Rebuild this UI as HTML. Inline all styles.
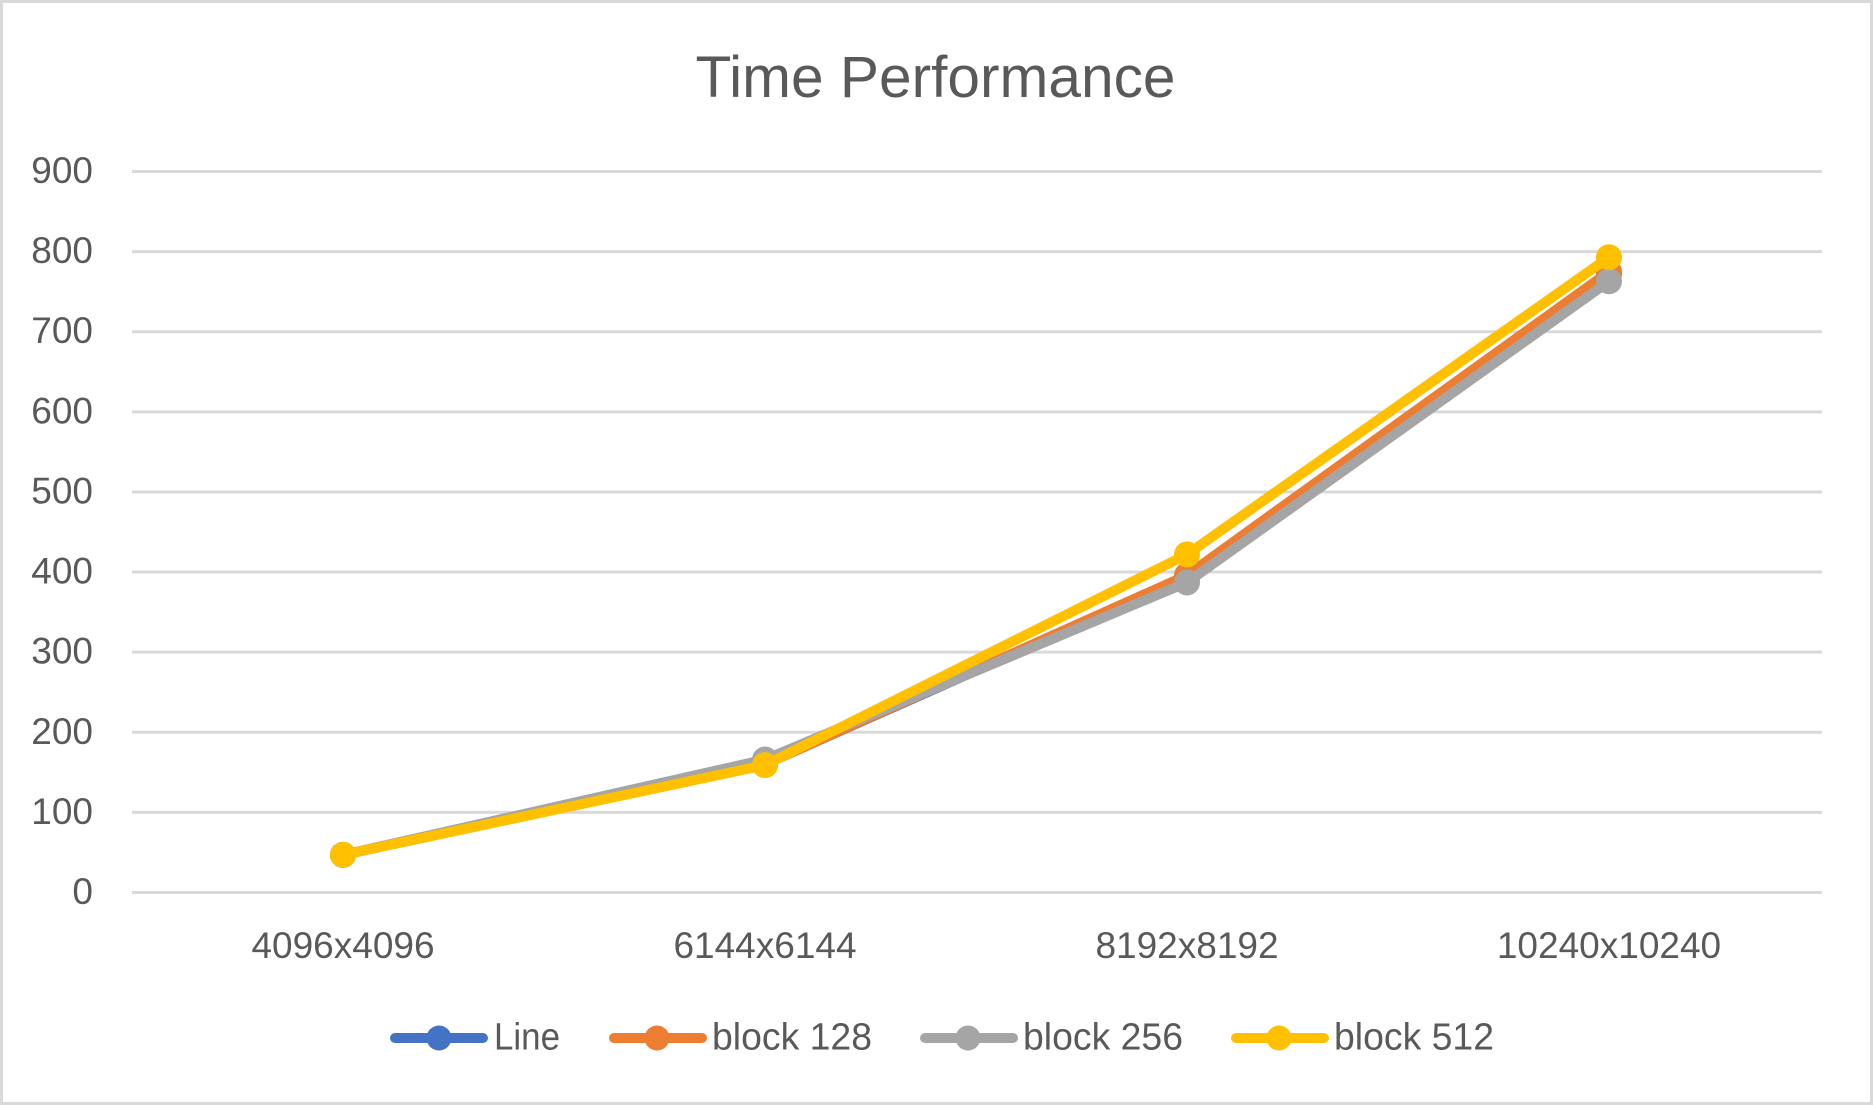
<!DOCTYPE html>
<html lang="en">
<head>
<meta charset="utf-8">
<title>Time Performance</title>
<style>
  html, body { margin: 0; padding: 0; background: #fff; }
  svg { display: block; }
  text { font-family: "Liberation Sans", sans-serif; fill: #595959; }
  .tick { font-size: 37px; }
  .legend { font-size: 38px; }
  .title { font-size: 58px; }
</style>
</head>
<body>
<svg id="chart" xmlns="http://www.w3.org/2000/svg" width="1873" height="1105" viewBox="0 0 1873 1105">
  <rect x="1.5" y="1.5" width="1870" height="1102" fill="#fff" stroke="#d9d9d9" stroke-width="3"/>
  <text class="title" x="935.5" y="97" text-anchor="middle" textLength="480" lengthAdjust="spacingAndGlyphs">Time Performance</text>
  <g id="grid"></g>
  <g id="yticks"></g>
  <g id="xticks"></g>
  <g id="series"></g>
  <g>
    <g>
      <line x1="395" y1="1038" x2="483" y2="1038" stroke="#4472c4" stroke-width="10" stroke-linecap="round"/>
      <circle cx="439" cy="1038" r="12.5" fill="#4472c4"/>
      <text class="legend" x="494" y="1049.5" textLength="66" lengthAdjust="spacingAndGlyphs">Line</text>
    </g>
    <g>
      <line x1="614" y1="1038" x2="702" y2="1038" stroke="#ed7d31" stroke-width="10" stroke-linecap="round"/>
      <circle cx="657" cy="1038" r="12.5" fill="#ed7d31"/>
      <text class="legend" x="712" y="1049.5" textLength="160" lengthAdjust="spacingAndGlyphs">block 128</text>
    </g>
    <g>
      <line x1="925" y1="1038" x2="1013" y2="1038" stroke="#a5a5a5" stroke-width="10" stroke-linecap="round"/>
      <circle cx="968" cy="1038" r="12.5" fill="#a5a5a5"/>
      <text class="legend" x="1023" y="1049.5" textLength="160" lengthAdjust="spacingAndGlyphs">block 256</text>
    </g>
    <g>
      <line x1="1236" y1="1038" x2="1324" y2="1038" stroke="#ffc000" stroke-width="10" stroke-linecap="round"/>
      <circle cx="1279" cy="1038" r="12.5" fill="#ffc000"/>
      <text class="legend" x="1334" y="1049.5" textLength="160" lengthAdjust="spacingAndGlyphs">block 512</text>
    </g>
  </g>
</svg>
<script>
const categories = ["4096x4096", "6144x6144", "8192x8192", "10240x10240"];
const yTickValues = [0, 100, 200, 300, 400, 500, 600, 700, 800, 900];
const lineValues = [47, 160, 394, 773];
const block128Values = [47, 160, 396, 775];
const block256Values = [47, 166, 387, 763];
const block512Values = [47, 159, 422, 793];

const SVG_NS = "http://www.w3.org/2000/svg";
const plotLeft = 132;
const plotRight = 1820;
const zeroY = 892.5;
const topY = 171.5;
const yMax = 900;

function xScale(index) {
  return plotLeft + (index + 0.5) * (plotRight - plotLeft) / categories.length;
}
function yScale(value) {
  return zeroY - value * (zeroY - topY) / yMax;
}
function make(tag, attrs, parent) {
  const el = document.createElementNS(SVG_NS, tag);
  for (const key in attrs) el.setAttribute(key, attrs[key]);
  parent.appendChild(el);
  return el;
}

const gridGroup = document.getElementById("grid");
const yTickGroup = document.getElementById("yticks");
const xTickGroup = document.getElementById("xticks");
const seriesGroup = document.getElementById("series");
const gridRight = 1822;

yTickValues.forEach(function (tick) {
  const y = yScale(tick);
  const grid = make("line", { x1: plotLeft, x2: gridRight, y1: y, y2: y, stroke: "#d9d9d9", "stroke-width": 3 }, gridGroup);
  
  
  const label = make("text", { class: "tick", x: 93, y: y + 11.5, "text-anchor": "end" }, yTickGroup);
  label.textContent = String(tick);
  
  
});

categories.forEach(function (category, i) {
  const label = make("text", { class: "tick", x: xScale(i), y: 958, "text-anchor": "middle" }, xTickGroup);
  label.textContent = category;
  
  
});

function drawSeries(values, color, name) {
  const group = make("g", {}, seriesGroup);
  
  
  const points = values.map(function (v, i) { return xScale(i) + "," + yScale(v); }).join(" ");
  make("polyline", { points: points, fill: "none", stroke: color, "stroke-width": 10, "stroke-linejoin": "round", "stroke-linecap": "round" }, group);
  values.forEach(function (v, i) {
    const dot = make("circle", { cx: xScale(i), cy: yScale(v), r: 13, fill: color }, group);
    
    
  });
}

drawSeries(lineValues, "#4472c4", "series-line");
drawSeries(block128Values, "#ed7d31", "series-block-128");
drawSeries(block256Values, "#a5a5a5", "series-block-256");
drawSeries(block512Values, "#ffc000", "series-block-512");
</script>
</body>
</html>
